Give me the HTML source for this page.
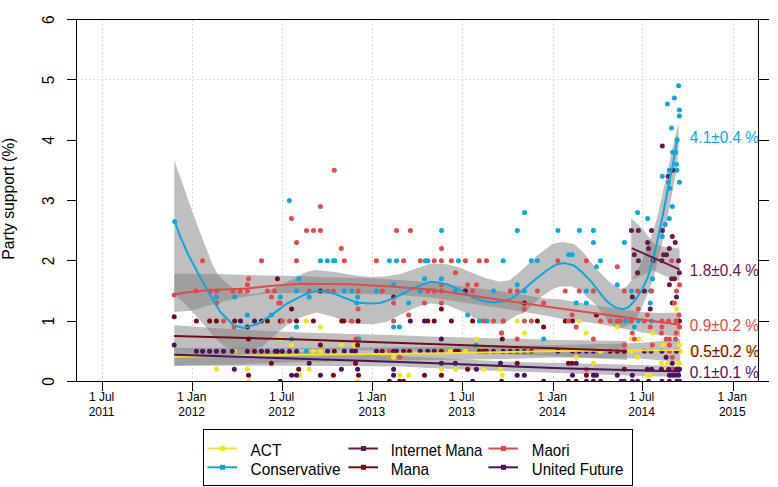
<!DOCTYPE html>
<html><head><meta charset="utf-8"><title>Party support</title>
<style>
html,body{margin:0;padding:0;background:#fff;}
body{width:778px;height:487px;overflow:hidden;font-family:"Liberation Sans",sans-serif;}
svg{display:block;font-family:"Liberation Sans",sans-serif;}
</style></head><body>
<svg width="778" height="487" viewBox="0 0 778 487">
<rect width="778" height="487" fill="#fff"/>
<defs><clipPath id="pc"><rect x="76.5" y="19.5" width="682" height="362"/></clipPath></defs>

<g stroke="#dbdbdb" stroke-width="1" stroke-dasharray="2 2" fill="none" shape-rendering="crispEdges">
<line x1="102.5" y1="20" x2="102.5" y2="381"/>
<line x1="192.5" y1="20" x2="192.5" y2="381"/>
<line x1="282.5" y1="20" x2="282.5" y2="381"/>
<line x1="372.5" y1="20" x2="372.5" y2="381"/>
<line x1="462.5" y1="20" x2="462.5" y2="381"/>
<line x1="553.5" y1="20" x2="553.5" y2="381"/>
<line x1="642.5" y1="20" x2="642.5" y2="381"/>
<line x1="733.5" y1="20" x2="733.5" y2="381"/>
<line x1="77" y1="79.5" x2="758" y2="79.5"/>
</g>
<g clip-path="url(#pc)">
<g fill="#fff" stroke="none">
<polygon points="174.3,348.0 250.0,348.0 300.0,348.0 430.0,347.0 560.0,345.0 640.0,343.0 680.3,339.0 680.3,362.0 640.0,358.5 560.0,357.5 503.0,359.0 430.0,360.0 300.0,362.0 250.0,364.0 174.3,365.7"/>
<polygon points="174.3,160.6 182.0,182.0 190.0,205.0 198.0,227.0 205.0,245.0 212.7,265.0 217.5,273.7 224.0,281.0 231.7,287.3 239.0,291.6 248.0,294.0 258.0,293.5 270.0,290.0 285.0,283.0 300.0,275.0 308.0,271.5 316.0,270.0 335.0,272.0 355.0,275.5 370.0,277.0 385.0,276.5 400.0,274.0 415.0,269.0 430.0,263.8 445.0,264.0 458.0,267.0 470.0,272.0 485.0,278.0 500.0,281.7 510.0,280.0 520.0,271.8 538.0,254.7 552.4,243.9 562.3,242.1 574.0,243.9 583.0,252.0 595.6,268.2 610.0,282.6 620.8,288.9 626.0,287.0 631.0,281.0 636.0,273.0 641.0,263.0 646.0,251.0 650.5,239.0 654.0,228.0 657.8,215.0 661.8,197.0 665.5,180.0 669.0,165.0 672.0,150.0 675.5,135.0 678.6,123.5 678.6,148.0 676.2,172.0 671.5,197.0 668.0,215.0 663.5,237.0 659.0,257.0 654.0,276.0 648.5,292.0 643.0,305.0 638.0,316.0 632.0,324.0 622.0,328.0 613.0,325.5 607.0,320.0 603.0,314.0 596.0,305.0 587.7,297.8 580.8,290.8 572.0,286.5 559.8,286.5 552.8,289.1 542.4,296.1 533.0,304.0 523.6,313.4 517.0,315.0 503.5,323.7 485.0,323.4 473.4,317.5 463.4,311.7 446.7,305.0 430.0,303.5 417.0,306.7 400.0,315.0 387.0,321.7 373.5,324.2 350.0,323.4 333.4,316.7 316.7,312.5 300.0,317.5 287.0,325.0 275.0,335.0 262.0,347.0 250.0,349.0 235.0,349.0 225.0,347.0 215.0,338.0 205.0,326.0 191.6,310.8 183.0,302.0 174.3,294.0"/>
<polygon points="631.2,218.4 642.6,228.4 653.5,243.5 665.0,247.0 679.5,248.5 679.5,281.0 665.0,276.0 653.0,270.5 645.0,274.0 631.2,280.0"/>
<polygon points="174.3,325.2 230.0,329.0 300.0,332.5 400.0,335.3 430.0,336.5 560.0,340.0 627.0,341.0 627.0,360.0 560.0,356.5 430.0,351.5 300.0,349.0 230.0,348.5 174.3,348.5"/>
<polygon points="174.3,273.7 217.5,274.0 266.0,275.5 300.0,276.0 330.0,277.5 365.0,278.0 400.0,280.0 430.0,282.5 470.0,287.5 500.0,291.0 545.0,298.5 560.0,299.3 600.0,306.0 640.0,312.0 660.0,313.0 680.0,312.5 680.0,336.5 660.0,335.0 640.0,332.0 600.0,324.0 560.0,318.5 545.0,315.5 500.0,308.0 470.0,303.5 430.0,297.5 400.0,295.0 365.0,294.0 330.0,293.5 300.0,293.0 266.0,293.5 239.0,297.8 212.0,304.6 191.6,310.8 174.3,312.0"/>
<polygon points="174.3,348.0 250.0,348.5 300.0,352.0 430.0,357.5 503.0,361.5 560.0,363.0 640.0,365.0 680.3,366.0 680.3,377.0 640.0,376.0 560.0,373.0 503.0,371.0 430.0,368.0 400.0,366.4 300.0,365.7 250.0,365.7 174.3,365.7"/>
</g>
<g fill="#808080" fill-opacity="0.5" stroke="none">
<polygon points="174.3,348.0 250.0,348.0 300.0,348.0 430.0,347.0 560.0,345.0 640.0,343.0 680.3,339.0 680.3,362.0 640.0,358.5 560.0,357.5 503.0,359.0 430.0,360.0 300.0,362.0 250.0,364.0 174.3,365.7"/>
<polygon points="174.3,160.6 182.0,182.0 190.0,205.0 198.0,227.0 205.0,245.0 212.7,265.0 217.5,273.7 224.0,281.0 231.7,287.3 239.0,291.6 248.0,294.0 258.0,293.5 270.0,290.0 285.0,283.0 300.0,275.0 308.0,271.5 316.0,270.0 335.0,272.0 355.0,275.5 370.0,277.0 385.0,276.5 400.0,274.0 415.0,269.0 430.0,263.8 445.0,264.0 458.0,267.0 470.0,272.0 485.0,278.0 500.0,281.7 510.0,280.0 520.0,271.8 538.0,254.7 552.4,243.9 562.3,242.1 574.0,243.9 583.0,252.0 595.6,268.2 610.0,282.6 620.8,288.9 626.0,287.0 631.0,281.0 636.0,273.0 641.0,263.0 646.0,251.0 650.5,239.0 654.0,228.0 657.8,215.0 661.8,197.0 665.5,180.0 669.0,165.0 672.0,150.0 675.5,135.0 678.6,123.5 678.6,148.0 676.2,172.0 671.5,197.0 668.0,215.0 663.5,237.0 659.0,257.0 654.0,276.0 648.5,292.0 643.0,305.0 638.0,316.0 632.0,324.0 622.0,328.0 613.0,325.5 607.0,320.0 603.0,314.0 596.0,305.0 587.7,297.8 580.8,290.8 572.0,286.5 559.8,286.5 552.8,289.1 542.4,296.1 533.0,304.0 523.6,313.4 517.0,315.0 503.5,323.7 485.0,323.4 473.4,317.5 463.4,311.7 446.7,305.0 430.0,303.5 417.0,306.7 400.0,315.0 387.0,321.7 373.5,324.2 350.0,323.4 333.4,316.7 316.7,312.5 300.0,317.5 287.0,325.0 275.0,335.0 262.0,347.0 250.0,349.0 235.0,349.0 225.0,347.0 215.0,338.0 205.0,326.0 191.6,310.8 183.0,302.0 174.3,294.0"/>
<polygon points="631.2,218.4 642.6,228.4 653.5,243.5 665.0,247.0 679.5,248.5 679.5,281.0 665.0,276.0 653.0,270.5 645.0,274.0 631.2,280.0"/>
<polygon points="174.3,325.2 230.0,329.0 300.0,332.5 400.0,335.3 430.0,336.5 560.0,340.0 627.0,341.0 627.0,360.0 560.0,356.5 430.0,351.5 300.0,349.0 230.0,348.5 174.3,348.5"/>
<polygon points="174.3,273.7 217.5,274.0 266.0,275.5 300.0,276.0 330.0,277.5 365.0,278.0 400.0,280.0 430.0,282.5 470.0,287.5 500.0,291.0 545.0,298.5 560.0,299.3 600.0,306.0 640.0,312.0 660.0,313.0 680.0,312.5 680.0,336.5 660.0,335.0 640.0,332.0 600.0,324.0 560.0,318.5 545.0,315.5 500.0,308.0 470.0,303.5 430.0,297.5 400.0,295.0 365.0,294.0 330.0,293.5 300.0,293.0 266.0,293.5 239.0,297.8 212.0,304.6 191.6,310.8 174.3,312.0"/>
<polygon points="174.3,348.0 250.0,348.5 300.0,352.0 430.0,357.5 503.0,361.5 560.0,363.0 640.0,365.0 680.3,366.0 680.3,377.0 640.0,376.0 560.0,373.0 503.0,371.0 430.0,368.0 400.0,366.4 300.0,365.7 250.0,365.7 174.3,365.7"/>
</g>
<g fill="#F2E41A">
<circle cx="216.4" cy="369.2" r="2.5"/>
<circle cx="247.4" cy="369.2" r="2.5"/>
<circle cx="248.5" cy="381.3" r="2.5"/>
<circle cx="234.3" cy="351.2" r="2.5"/>
<circle cx="280.3" cy="339.1" r="2.5"/>
<circle cx="291.6" cy="345.1" r="2.5"/>
<circle cx="299.5" cy="375.3" r="2.5"/>
<circle cx="306.3" cy="321.0" r="2.5"/>
<circle cx="320.4" cy="327.0" r="2.5"/>
<circle cx="313.4" cy="351.2" r="2.5"/>
<circle cx="320.4" cy="351.2" r="2.5"/>
<circle cx="341.4" cy="345.1" r="2.5"/>
<circle cx="354.3" cy="345.1" r="2.5"/>
<circle cx="393.6" cy="357.2" r="2.5"/>
<circle cx="309.2" cy="369.2" r="2.5"/>
<circle cx="399.7" cy="375.3" r="2.5"/>
<circle cx="408.6" cy="375.3" r="2.5"/>
<circle cx="357.6" cy="381.3" r="2.5"/>
<circle cx="517.2" cy="321.0" r="2.5"/>
<circle cx="524.4" cy="333.1" r="2.5"/>
<circle cx="476.4" cy="339.1" r="2.5"/>
<circle cx="450.4" cy="351.2" r="2.5"/>
<circle cx="465.4" cy="351.2" r="2.5"/>
<circle cx="441.4" cy="369.2" r="2.5"/>
<circle cx="455.4" cy="369.2" r="2.5"/>
<circle cx="483.5" cy="369.2" r="2.5"/>
<circle cx="500.5" cy="369.2" r="2.5"/>
<circle cx="502.3" cy="375.3" r="2.5"/>
<circle cx="579.2" cy="321.0" r="2.5"/>
<circle cx="617.3" cy="327.0" r="2.5"/>
<circle cx="586.4" cy="333.1" r="2.5"/>
<circle cx="652.4" cy="333.1" r="2.5"/>
<circle cx="631.5" cy="339.1" r="2.5"/>
<circle cx="638.5" cy="339.1" r="2.5"/>
<circle cx="662.8" cy="345.1" r="2.5"/>
<circle cx="679.5" cy="345.1" r="2.5"/>
<circle cx="600.6" cy="351.2" r="2.5"/>
<circle cx="631.5" cy="351.2" r="2.5"/>
<circle cx="680.3" cy="351.2" r="2.5"/>
<circle cx="576.2" cy="357.2" r="2.5"/>
<circle cx="637.7" cy="357.2" r="2.5"/>
<circle cx="593.4" cy="363.2" r="2.5"/>
<circle cx="661.4" cy="363.2" r="2.5"/>
<circle cx="667.8" cy="363.2" r="2.5"/>
<circle cx="677.8" cy="363.2" r="2.5"/>
<circle cx="679.5" cy="363.2" r="2.5"/>
<circle cx="665.3" cy="369.2" r="2.5"/>
<circle cx="647.4" cy="375.3" r="2.5"/>
<circle cx="650.2" cy="375.3" r="2.5"/>
<circle cx="676.5" cy="308.9" r="2.5"/>
</g>
<g fill="#0BA8E0">
<circle cx="174.7" cy="221.5" r="2.5"/>
<circle cx="289.3" cy="200.4" r="2.5"/>
<circle cx="320.4" cy="260.7" r="2.5"/>
<circle cx="327.4" cy="260.7" r="2.5"/>
<circle cx="333.4" cy="260.7" r="2.5"/>
<circle cx="334.8" cy="260.7" r="2.5"/>
<circle cx="216.4" cy="296.9" r="2.5"/>
<circle cx="234.7" cy="296.9" r="2.5"/>
<circle cx="280.3" cy="296.9" r="2.5"/>
<circle cx="296.5" cy="290.9" r="2.5"/>
<circle cx="298.7" cy="278.8" r="2.5"/>
<circle cx="247.4" cy="315.0" r="2.5"/>
<circle cx="271.4" cy="315.0" r="2.5"/>
<circle cx="296.5" cy="327.0" r="2.5"/>
<circle cx="291.6" cy="339.1" r="2.5"/>
<circle cx="309.2" cy="296.9" r="2.5"/>
<circle cx="344.3" cy="290.9" r="2.5"/>
<circle cx="351.8" cy="290.9" r="2.5"/>
<circle cx="357.6" cy="296.9" r="2.5"/>
<circle cx="356.8" cy="302.9" r="2.5"/>
<circle cx="358.8" cy="339.1" r="2.5"/>
<circle cx="376.4" cy="290.9" r="2.5"/>
<circle cx="389.4" cy="260.7" r="2.5"/>
<circle cx="396.4" cy="260.7" r="2.5"/>
<circle cx="393.6" cy="284.8" r="2.5"/>
<circle cx="408.6" cy="302.9" r="2.5"/>
<circle cx="420.3" cy="290.9" r="2.5"/>
<circle cx="424.5" cy="278.8" r="2.5"/>
<circle cx="425.3" cy="260.7" r="2.5"/>
<circle cx="427.8" cy="260.7" r="2.5"/>
<circle cx="393.6" cy="327.0" r="2.5"/>
<circle cx="399.4" cy="327.0" r="2.5"/>
<circle cx="306.3" cy="351.2" r="2.5"/>
<circle cx="441.5" cy="230.6" r="2.5"/>
<circle cx="441.4" cy="278.8" r="2.5"/>
<circle cx="455.4" cy="290.9" r="2.5"/>
<circle cx="458.4" cy="260.7" r="2.5"/>
<circle cx="467.6" cy="315.0" r="2.5"/>
<circle cx="479.3" cy="321.0" r="2.5"/>
<circle cx="486.8" cy="321.0" r="2.5"/>
<circle cx="493.5" cy="290.9" r="2.5"/>
<circle cx="503.2" cy="260.7" r="2.5"/>
<circle cx="503.2" cy="321.0" r="2.5"/>
<circle cx="501.5" cy="333.1" r="2.5"/>
<circle cx="517.3" cy="230.6" r="2.5"/>
<circle cx="517.2" cy="284.8" r="2.5"/>
<circle cx="524.5" cy="212.5" r="2.5"/>
<circle cx="524.4" cy="290.9" r="2.5"/>
<circle cx="531.3" cy="260.7" r="2.5"/>
<circle cx="537.4" cy="260.7" r="2.5"/>
<circle cx="543.6" cy="339.1" r="2.5"/>
<circle cx="476.0" cy="345.1" r="2.5"/>
<circle cx="557.9" cy="230.6" r="2.5"/>
<circle cx="568.6" cy="254.7" r="2.5"/>
<circle cx="572.2" cy="254.7" r="2.5"/>
<circle cx="579.4" cy="230.6" r="2.5"/>
<circle cx="593.4" cy="230.6" r="2.5"/>
<circle cx="593.4" cy="242.6" r="2.5"/>
<circle cx="586.4" cy="290.9" r="2.5"/>
<circle cx="576.2" cy="302.9" r="2.5"/>
<circle cx="586.4" cy="302.9" r="2.5"/>
<circle cx="596.4" cy="266.7" r="2.5"/>
<circle cx="600.5" cy="260.7" r="2.5"/>
<circle cx="617.3" cy="284.8" r="2.5"/>
<circle cx="624.4" cy="242.6" r="2.5"/>
<circle cx="631.5" cy="290.9" r="2.5"/>
<circle cx="634.4" cy="327.0" r="2.5"/>
<circle cx="625.7" cy="321.0" r="2.5"/>
<circle cx="638.2" cy="321.0" r="2.5"/>
<circle cx="651.6" cy="321.0" r="2.5"/>
<circle cx="650.5" cy="290.9" r="2.5"/>
<circle cx="650.3" cy="302.9" r="2.5"/>
<circle cx="652.4" cy="278.8" r="2.5"/>
<circle cx="637.6" cy="212.5" r="2.5"/>
<circle cx="647.6" cy="218.5" r="2.5"/>
<circle cx="669.3" cy="218.5" r="2.5"/>
<circle cx="665.2" cy="224.5" r="2.5"/>
<circle cx="662.3" cy="236.6" r="2.5"/>
<circle cx="672.3" cy="206.4" r="2.5"/>
<circle cx="669.8" cy="188.3" r="2.5"/>
<circle cx="668.5" cy="182.3" r="2.5"/>
<circle cx="679.4" cy="182.3" r="2.5"/>
<circle cx="662.3" cy="176.3" r="2.5"/>
<circle cx="669.3" cy="170.3" r="2.5"/>
<circle cx="676.9" cy="170.3" r="2.5"/>
<circle cx="676.5" cy="164.2" r="2.5"/>
<circle cx="672.7" cy="152.2" r="2.5"/>
<circle cx="675.5" cy="152.2" r="2.5"/>
<circle cx="677.2" cy="140.1" r="2.5"/>
<circle cx="671.5" cy="128.0" r="2.5"/>
<circle cx="679.4" cy="116.0" r="2.5"/>
<circle cx="679.4" cy="110.0" r="2.5"/>
<circle cx="667.4" cy="103.9" r="2.5"/>
<circle cx="674.4" cy="97.9" r="2.5"/>
<circle cx="678.6" cy="85.8" r="2.5"/>
</g>
<g fill="#66194A">
<circle cx="631.4" cy="230.6" r="2.5"/>
<circle cx="638.4" cy="230.6" r="2.5"/>
<circle cx="651.5" cy="230.6" r="2.5"/>
<circle cx="662.3" cy="230.6" r="2.5"/>
<circle cx="672.3" cy="236.6" r="2.5"/>
<circle cx="647.6" cy="242.6" r="2.5"/>
<circle cx="675.2" cy="242.6" r="2.5"/>
<circle cx="648.5" cy="248.6" r="2.5"/>
<circle cx="669.3" cy="248.6" r="2.5"/>
<circle cx="634.3" cy="254.7" r="2.5"/>
<circle cx="663.5" cy="254.7" r="2.5"/>
<circle cx="666.5" cy="254.7" r="2.5"/>
<circle cx="638.4" cy="260.7" r="2.5"/>
<circle cx="653.1" cy="260.7" r="2.5"/>
<circle cx="661.8" cy="260.7" r="2.5"/>
<circle cx="678.5" cy="260.7" r="2.5"/>
<circle cx="637.6" cy="272.8" r="2.5"/>
<circle cx="679.4" cy="272.8" r="2.5"/>
<circle cx="671.6" cy="278.8" r="2.5"/>
<circle cx="674.4" cy="278.8" r="2.5"/>
<circle cx="669.4" cy="284.8" r="2.5"/>
<circle cx="644.4" cy="290.9" r="2.5"/>
<circle cx="632.3" cy="296.9" r="2.5"/>
<circle cx="676.5" cy="296.9" r="2.5"/>
<circle cx="672.3" cy="302.9" r="2.5"/>
<circle cx="650.2" cy="308.9" r="2.5"/>
<circle cx="679.5" cy="321.0" r="2.5"/>
<circle cx="662.3" cy="146.1" r="2.5"/>
<circle cx="668.2" cy="176.3" r="2.5"/>
<circle cx="672.7" cy="170.3" r="2.5"/>
</g>
<g fill="#770A17">
<circle cx="174.2" cy="316.8" r="2.5"/>
<circle cx="196.4" cy="321.0" r="2.5"/>
<circle cx="209.6" cy="321.0" r="2.5"/>
<circle cx="216.4" cy="321.0" r="2.5"/>
<circle cx="234.7" cy="321.0" r="2.5"/>
<circle cx="261.4" cy="321.0" r="2.5"/>
<circle cx="267.4" cy="321.0" r="2.5"/>
<circle cx="280.3" cy="321.0" r="2.5"/>
<circle cx="296.5" cy="321.0" r="2.5"/>
<circle cx="277.4" cy="278.8" r="2.5"/>
<circle cx="291.6" cy="308.9" r="2.5"/>
<circle cx="247.4" cy="327.0" r="2.5"/>
<circle cx="248.5" cy="339.1" r="2.5"/>
<circle cx="254.5" cy="351.2" r="2.5"/>
<circle cx="271.4" cy="363.2" r="2.5"/>
<circle cx="248.5" cy="375.3" r="2.5"/>
<circle cx="298.7" cy="369.2" r="2.5"/>
<circle cx="320.4" cy="290.9" r="2.5"/>
<circle cx="313.4" cy="321.0" r="2.5"/>
<circle cx="341.8" cy="321.0" r="2.5"/>
<circle cx="343.8" cy="321.0" r="2.5"/>
<circle cx="358.1" cy="321.0" r="2.5"/>
<circle cx="393.6" cy="296.9" r="2.5"/>
<circle cx="320.4" cy="345.1" r="2.5"/>
<circle cx="357.6" cy="345.1" r="2.5"/>
<circle cx="334.3" cy="351.2" r="2.5"/>
<circle cx="382.2" cy="351.2" r="2.5"/>
<circle cx="409.4" cy="351.2" r="2.5"/>
<circle cx="355.5" cy="363.2" r="2.5"/>
<circle cx="333.4" cy="375.3" r="2.5"/>
<circle cx="358.5" cy="375.3" r="2.5"/>
<circle cx="424.5" cy="375.3" r="2.5"/>
<circle cx="399.7" cy="381.3" r="2.5"/>
<circle cx="403.6" cy="381.3" r="2.5"/>
<circle cx="427.8" cy="321.0" r="2.5"/>
<circle cx="465.4" cy="290.9" r="2.5"/>
<circle cx="441.4" cy="308.9" r="2.5"/>
<circle cx="524.4" cy="302.9" r="2.5"/>
<circle cx="434.2" cy="321.0" r="2.5"/>
<circle cx="451.4" cy="321.0" r="2.5"/>
<circle cx="472.6" cy="321.0" r="2.5"/>
<circle cx="537.4" cy="321.0" r="2.5"/>
<circle cx="543.6" cy="327.0" r="2.5"/>
<circle cx="502.3" cy="339.1" r="2.5"/>
<circle cx="441.4" cy="351.2" r="2.5"/>
<circle cx="455.4" cy="351.2" r="2.5"/>
<circle cx="458.4" cy="351.2" r="2.5"/>
<circle cx="479.3" cy="351.2" r="2.5"/>
<circle cx="483.5" cy="351.2" r="2.5"/>
<circle cx="486.5" cy="351.2" r="2.5"/>
<circle cx="510.2" cy="351.2" r="2.5"/>
<circle cx="531.4" cy="351.2" r="2.5"/>
<circle cx="517.2" cy="363.2" r="2.5"/>
<circle cx="467.6" cy="369.2" r="2.5"/>
<circle cx="441.4" cy="375.3" r="2.5"/>
<circle cx="565.3" cy="321.0" r="2.5"/>
<circle cx="572.5" cy="321.0" r="2.5"/>
<circle cx="596.4" cy="315.0" r="2.5"/>
<circle cx="610.1" cy="351.2" r="2.5"/>
<circle cx="617.3" cy="351.2" r="2.5"/>
<circle cx="624.3" cy="351.2" r="2.5"/>
<circle cx="651.1" cy="351.2" r="2.5"/>
<circle cx="568.4" cy="363.2" r="2.5"/>
<circle cx="572.0" cy="363.2" r="2.5"/>
<circle cx="624.3" cy="369.2" r="2.5"/>
<circle cx="586.4" cy="375.3" r="2.5"/>
<circle cx="576.2" cy="381.3" r="2.5"/>
<circle cx="593.4" cy="381.3" r="2.5"/>
</g>
<g fill="#E04A48">
<circle cx="174.2" cy="295.1" r="2.5"/>
<circle cx="202.5" cy="260.7" r="2.5"/>
<circle cx="261.5" cy="260.7" r="2.5"/>
<circle cx="296.5" cy="260.7" r="2.5"/>
<circle cx="291.4" cy="218.5" r="2.5"/>
<circle cx="296.5" cy="242.6" r="2.5"/>
<circle cx="306.5" cy="230.6" r="2.5"/>
<circle cx="313.5" cy="230.6" r="2.5"/>
<circle cx="320.4" cy="230.6" r="2.5"/>
<circle cx="320.4" cy="206.4" r="2.5"/>
<circle cx="334.3" cy="170.3" r="2.5"/>
<circle cx="341.2" cy="248.6" r="2.5"/>
<circle cx="344.3" cy="260.7" r="2.5"/>
<circle cx="195.9" cy="290.9" r="2.5"/>
<circle cx="210.1" cy="290.9" r="2.5"/>
<circle cx="216.4" cy="290.9" r="2.5"/>
<circle cx="232.7" cy="290.9" r="2.5"/>
<circle cx="240.2" cy="290.9" r="2.5"/>
<circle cx="247.4" cy="290.9" r="2.5"/>
<circle cx="247.4" cy="284.8" r="2.5"/>
<circle cx="248.5" cy="278.8" r="2.5"/>
<circle cx="267.4" cy="290.9" r="2.5"/>
<circle cx="274.4" cy="290.9" r="2.5"/>
<circle cx="271.4" cy="296.9" r="2.5"/>
<circle cx="278.6" cy="302.9" r="2.5"/>
<circle cx="280.3" cy="302.9" r="2.5"/>
<circle cx="216.8" cy="302.9" r="2.5"/>
<circle cx="223.5" cy="321.0" r="2.5"/>
<circle cx="282.3" cy="321.0" r="2.5"/>
<circle cx="289.5" cy="321.0" r="2.5"/>
<circle cx="234.0" cy="327.0" r="2.5"/>
<circle cx="309.2" cy="290.9" r="2.5"/>
<circle cx="327.6" cy="290.9" r="2.5"/>
<circle cx="333.4" cy="290.9" r="2.5"/>
<circle cx="358.1" cy="290.9" r="2.5"/>
<circle cx="358.1" cy="308.9" r="2.5"/>
<circle cx="382.2" cy="290.9" r="2.5"/>
<circle cx="427.8" cy="290.9" r="2.5"/>
<circle cx="393.6" cy="302.9" r="2.5"/>
<circle cx="424.5" cy="302.9" r="2.5"/>
<circle cx="408.6" cy="315.0" r="2.5"/>
<circle cx="351.5" cy="321.0" r="2.5"/>
<circle cx="393.6" cy="321.0" r="2.5"/>
<circle cx="376.4" cy="260.7" r="2.5"/>
<circle cx="403.6" cy="260.7" r="2.5"/>
<circle cx="420.3" cy="260.7" r="2.5"/>
<circle cx="356.0" cy="339.1" r="2.5"/>
<circle cx="389.4" cy="351.2" r="2.5"/>
<circle cx="399.7" cy="357.2" r="2.5"/>
<circle cx="396.5" cy="230.6" r="2.5"/>
<circle cx="410.4" cy="230.6" r="2.5"/>
<circle cx="441.5" cy="248.6" r="2.5"/>
<circle cx="434.2" cy="260.7" r="2.5"/>
<circle cx="441.4" cy="260.7" r="2.5"/>
<circle cx="451.4" cy="260.7" r="2.5"/>
<circle cx="465.4" cy="260.7" r="2.5"/>
<circle cx="479.3" cy="260.7" r="2.5"/>
<circle cx="486.5" cy="260.7" r="2.5"/>
<circle cx="557.8" cy="260.7" r="2.5"/>
<circle cx="455.4" cy="272.8" r="2.5"/>
<circle cx="441.4" cy="284.8" r="2.5"/>
<circle cx="467.6" cy="284.8" r="2.5"/>
<circle cx="476.4" cy="284.8" r="2.5"/>
<circle cx="434.2" cy="290.9" r="2.5"/>
<circle cx="441.4" cy="290.9" r="2.5"/>
<circle cx="472.6" cy="290.9" r="2.5"/>
<circle cx="510.2" cy="290.9" r="2.5"/>
<circle cx="517.2" cy="290.9" r="2.5"/>
<circle cx="537.4" cy="290.9" r="2.5"/>
<circle cx="441.4" cy="302.9" r="2.5"/>
<circle cx="524.4" cy="308.9" r="2.5"/>
<circle cx="543.6" cy="302.9" r="2.5"/>
<circle cx="483.5" cy="321.0" r="2.5"/>
<circle cx="493.5" cy="321.0" r="2.5"/>
<circle cx="503.2" cy="321.0" r="2.5"/>
<circle cx="524.4" cy="321.0" r="2.5"/>
<circle cx="531.4" cy="321.0" r="2.5"/>
<circle cx="501.5" cy="333.1" r="2.5"/>
<circle cx="517.2" cy="339.1" r="2.5"/>
<circle cx="586.4" cy="260.7" r="2.5"/>
<circle cx="617.3" cy="266.7" r="2.5"/>
<circle cx="565.3" cy="290.9" r="2.5"/>
<circle cx="579.2" cy="290.9" r="2.5"/>
<circle cx="593.4" cy="290.9" r="2.5"/>
<circle cx="624.3" cy="290.9" r="2.5"/>
<circle cx="637.7" cy="290.9" r="2.5"/>
<circle cx="651.6" cy="290.9" r="2.5"/>
<circle cx="638.2" cy="308.9" r="2.5"/>
<circle cx="572.0" cy="315.0" r="2.5"/>
<circle cx="647.4" cy="315.0" r="2.5"/>
<circle cx="568.4" cy="321.0" r="2.5"/>
<circle cx="600.6" cy="321.0" r="2.5"/>
<circle cx="610.1" cy="321.0" r="2.5"/>
<circle cx="617.3" cy="321.0" r="2.5"/>
<circle cx="620.2" cy="321.0" r="2.5"/>
<circle cx="631.5" cy="321.0" r="2.5"/>
<circle cx="644.4" cy="321.0" r="2.5"/>
<circle cx="661.9" cy="321.0" r="2.5"/>
<circle cx="668.6" cy="321.0" r="2.5"/>
<circle cx="676.1" cy="321.0" r="2.5"/>
<circle cx="576.2" cy="327.0" r="2.5"/>
<circle cx="650.2" cy="327.0" r="2.5"/>
<circle cx="661.9" cy="327.0" r="2.5"/>
<circle cx="679.5" cy="327.0" r="2.5"/>
<circle cx="632.3" cy="333.1" r="2.5"/>
<circle cx="661.4" cy="333.1" r="2.5"/>
<circle cx="676.1" cy="333.1" r="2.5"/>
<circle cx="593.4" cy="339.1" r="2.5"/>
<circle cx="634.4" cy="339.1" r="2.5"/>
<circle cx="666.1" cy="339.1" r="2.5"/>
<circle cx="669.4" cy="339.1" r="2.5"/>
<circle cx="675.6" cy="339.1" r="2.5"/>
<circle cx="624.3" cy="345.1" r="2.5"/>
<circle cx="652.4" cy="345.1" r="2.5"/>
<circle cx="669.4" cy="345.1" r="2.5"/>
<circle cx="669.4" cy="351.2" r="2.5"/>
<circle cx="672.3" cy="357.2" r="2.5"/>
<circle cx="586.4" cy="369.2" r="2.5"/>
<circle cx="672.8" cy="369.2" r="2.5"/>
<circle cx="671.6" cy="260.7" r="2.5"/>
<circle cx="679.5" cy="284.8" r="2.5"/>
<circle cx="676.5" cy="290.9" r="2.5"/>
<circle cx="674.4" cy="302.9" r="2.5"/>
<circle cx="679.0" cy="315.0" r="2.5"/>
</g>
<g fill="#4B1260">
<circle cx="174.2" cy="345.1" r="2.5"/>
<circle cx="196.4" cy="351.2" r="2.5"/>
<circle cx="202.6" cy="351.2" r="2.5"/>
<circle cx="209.6" cy="351.2" r="2.5"/>
<circle cx="216.4" cy="351.2" r="2.5"/>
<circle cx="223.5" cy="351.2" r="2.5"/>
<circle cx="232.3" cy="351.2" r="2.5"/>
<circle cx="247.4" cy="351.2" r="2.5"/>
<circle cx="261.4" cy="351.2" r="2.5"/>
<circle cx="267.4" cy="351.2" r="2.5"/>
<circle cx="275.3" cy="351.2" r="2.5"/>
<circle cx="277.4" cy="351.2" r="2.5"/>
<circle cx="282.3" cy="351.2" r="2.5"/>
<circle cx="289.5" cy="351.2" r="2.5"/>
<circle cx="296.5" cy="351.2" r="2.5"/>
<circle cx="240.5" cy="321.0" r="2.5"/>
<circle cx="254.5" cy="321.0" r="2.5"/>
<circle cx="234.3" cy="369.2" r="2.5"/>
<circle cx="280.3" cy="381.3" r="2.5"/>
<circle cx="291.6" cy="375.3" r="2.5"/>
<circle cx="296.5" cy="375.3" r="2.5"/>
<circle cx="327.6" cy="351.2" r="2.5"/>
<circle cx="344.3" cy="351.2" r="2.5"/>
<circle cx="351.8" cy="351.2" r="2.5"/>
<circle cx="355.5" cy="351.2" r="2.5"/>
<circle cx="376.4" cy="351.2" r="2.5"/>
<circle cx="393.6" cy="351.2" r="2.5"/>
<circle cx="396.4" cy="351.2" r="2.5"/>
<circle cx="403.6" cy="351.2" r="2.5"/>
<circle cx="420.3" cy="351.2" r="2.5"/>
<circle cx="427.8" cy="351.2" r="2.5"/>
<circle cx="410.3" cy="321.0" r="2.5"/>
<circle cx="424.5" cy="321.0" r="2.5"/>
<circle cx="309.2" cy="363.2" r="2.5"/>
<circle cx="341.4" cy="369.2" r="2.5"/>
<circle cx="357.6" cy="369.2" r="2.5"/>
<circle cx="393.6" cy="369.2" r="2.5"/>
<circle cx="320.4" cy="375.3" r="2.5"/>
<circle cx="393.6" cy="375.3" r="2.5"/>
<circle cx="389.4" cy="381.3" r="2.5"/>
<circle cx="441.4" cy="339.1" r="2.5"/>
<circle cx="434.2" cy="351.2" r="2.5"/>
<circle cx="493.5" cy="351.2" r="2.5"/>
<circle cx="503.2" cy="351.2" r="2.5"/>
<circle cx="517.2" cy="351.2" r="2.5"/>
<circle cx="524.4" cy="351.2" r="2.5"/>
<circle cx="557.8" cy="351.2" r="2.5"/>
<circle cx="441.4" cy="363.2" r="2.5"/>
<circle cx="455.4" cy="363.2" r="2.5"/>
<circle cx="500.5" cy="363.2" r="2.5"/>
<circle cx="476.4" cy="369.2" r="2.5"/>
<circle cx="517.2" cy="375.3" r="2.5"/>
<circle cx="524.4" cy="375.3" r="2.5"/>
<circle cx="451.4" cy="381.3" r="2.5"/>
<circle cx="472.6" cy="381.3" r="2.5"/>
<circle cx="501.5" cy="381.3" r="2.5"/>
<circle cx="543.6" cy="381.3" r="2.5"/>
<circle cx="572.5" cy="351.2" r="2.5"/>
<circle cx="579.2" cy="351.2" r="2.5"/>
<circle cx="586.4" cy="351.2" r="2.5"/>
<circle cx="593.4" cy="351.2" r="2.5"/>
<circle cx="644.4" cy="351.2" r="2.5"/>
<circle cx="661.9" cy="351.2" r="2.5"/>
<circle cx="676.5" cy="351.2" r="2.5"/>
<circle cx="666.1" cy="357.2" r="2.5"/>
<circle cx="576.2" cy="363.2" r="2.5"/>
<circle cx="672.3" cy="363.2" r="2.5"/>
<circle cx="647.4" cy="369.2" r="2.5"/>
<circle cx="651.6" cy="369.2" r="2.5"/>
<circle cx="661.4" cy="369.2" r="2.5"/>
<circle cx="668.6" cy="369.2" r="2.5"/>
<circle cx="676.5" cy="369.2" r="2.5"/>
<circle cx="679.5" cy="369.2" r="2.5"/>
<circle cx="572.5" cy="375.3" r="2.5"/>
<circle cx="593.4" cy="375.3" r="2.5"/>
<circle cx="596.4" cy="375.3" r="2.5"/>
<circle cx="617.3" cy="375.3" r="2.5"/>
<circle cx="632.3" cy="375.3" r="2.5"/>
<circle cx="669.4" cy="375.3" r="2.5"/>
<circle cx="672.3" cy="375.3" r="2.5"/>
<circle cx="675.3" cy="375.3" r="2.5"/>
<circle cx="678.6" cy="375.3" r="2.5"/>
<circle cx="568.4" cy="381.3" r="2.5"/>
<circle cx="586.4" cy="381.3" r="2.5"/>
<circle cx="600.6" cy="381.3" r="2.5"/>
<circle cx="621.0" cy="381.3" r="2.5"/>
<circle cx="624.3" cy="381.3" r="2.5"/>
<circle cx="632.3" cy="381.3" r="2.5"/>
<circle cx="637.7" cy="381.3" r="2.5"/>
<circle cx="648.6" cy="381.3" r="2.5"/>
<circle cx="661.9" cy="381.3" r="2.5"/>
<circle cx="669.4" cy="381.3" r="2.5"/>
<circle cx="677.0" cy="381.3" r="2.5"/>
<circle cx="679.5" cy="381.3" r="2.5"/>
</g>
<polyline points="174.2,356.8 300.0,354.8 430.0,353.5 560.0,351.0 680.3,350.1" fill="none" stroke="#F2E41A" stroke-width="2" stroke-linejoin="round"/>
<polyline points="174.7,221.5 180.0,236.0 188.4,255.0 200.0,277.0 210.1,295.1 220.1,311.8 233.5,325.2 243.5,328.0 256.9,324.3 271.4,315.1 287.0,303.5 300.0,296.8 308.0,293.0 316.7,290.9 325.0,291.5 333.4,293.4 345.0,298.0 356.8,302.6 368.0,303.5 380.2,303.0 393.6,298.4 405.0,292.5 417.0,286.7 430.0,281.7 438.0,282.5 446.7,284.2 456.7,288.4 473.4,297.6 483.0,301.0 493.5,302.6 503.0,301.5 510.2,299.3 520.0,292.5 538.0,277.2 548.0,269.5 556.0,264.6 565.0,263.1 574.0,265.5 583.0,273.0 592.0,282.6 604.6,298.8 610.0,304.0 615.4,307.4 622.6,309.2 628.0,307.5 631.6,304.2 636.0,299.0 641.5,290.5 647.5,278.0 653.0,260.0 657.5,240.0 661.8,220.0 665.8,200.0 669.5,180.0 672.8,165.0 675.0,152.0 677.7,137.0" fill="none" stroke="#0BA8E0" stroke-width="2" stroke-linejoin="round"/>
<polyline points="631.7,248.1 679.4,269.4" fill="none" stroke="#66194A" stroke-width="2" stroke-linejoin="round"/>
<polyline points="174.2,335.9 300.0,339.5 430.0,344.0 560.0,348.6 627.0,351.0" fill="none" stroke="#770A17" stroke-width="2" stroke-linejoin="round"/>
<polyline points="174.2,294.3 190.0,292.0 210.0,290.1 247.4,288.4 270.0,286.0 300.0,283.7 350.0,284.2 393.6,286.7 430.0,289.6 560.0,308.5 680.0,324.7" fill="none" stroke="#E04A48" stroke-width="2" stroke-linejoin="round"/>
<polyline points="174.2,354.8 300.0,358.7 430.0,363.1 560.0,368.2 680.3,371.5" fill="none" stroke="#4B1260" stroke-width="2" stroke-linejoin="round"/>
</g>
<g clip-path="url(#pc)" font-size="16.2">
<text transform="translate(689.8,356.6) scale(0.950,1)" fill="#F2E41A">0.5±0.2 %</text>
<text transform="translate(689.8,142.5) scale(0.950,1)" fill="#0BA8E0">4.1±0.4 %</text>
<text transform="translate(689.8,275.5) scale(0.950,1)" fill="#66194A">1.8±0.4 %</text>
<text transform="translate(690.4,356.6) scale(0.950,1)" fill="#770A17">0.5±0.2 %</text>
<text transform="translate(689.8,331.4) scale(0.950,1)" fill="#E04A48">0.9±0.2 %</text>
<text transform="translate(689.8,377.6) scale(0.950,1)" fill="#4B1260">0.1±0.1 %</text>
</g>
<g stroke="#000" stroke-width="1" fill="none" shape-rendering="crispEdges">
<rect x="76.5" y="19.5" width="682" height="362"/>
<line x1="67" y1="381.5" x2="76.5" y2="381.5"/>
<line x1="758.5" y1="381.5" x2="769" y2="381.5"/>
<line x1="67" y1="321.5" x2="76.5" y2="321.5"/>
<line x1="758.5" y1="321.5" x2="769" y2="321.5"/>
<line x1="67" y1="260.5" x2="76.5" y2="260.5"/>
<line x1="758.5" y1="260.5" x2="769" y2="260.5"/>
<line x1="67" y1="200.5" x2="76.5" y2="200.5"/>
<line x1="758.5" y1="200.5" x2="769" y2="200.5"/>
<line x1="67" y1="140.5" x2="76.5" y2="140.5"/>
<line x1="758.5" y1="140.5" x2="769" y2="140.5"/>
<line x1="67" y1="79.5" x2="76.5" y2="79.5"/>
<line x1="758.5" y1="79.5" x2="769" y2="79.5"/>
<line x1="67" y1="19.5" x2="76.5" y2="19.5"/>
<line x1="758.5" y1="19.5" x2="769" y2="19.5"/>
<line x1="102.5" y1="381.5" x2="102.5" y2="391"/>
<line x1="192.5" y1="381.5" x2="192.5" y2="391"/>
<line x1="282.5" y1="381.5" x2="282.5" y2="391"/>
<line x1="372.5" y1="381.5" x2="372.5" y2="391"/>
<line x1="462.5" y1="381.5" x2="462.5" y2="391"/>
<line x1="553.5" y1="381.5" x2="553.5" y2="391"/>
<line x1="642.5" y1="381.5" x2="642.5" y2="391"/>
<line x1="733.5" y1="381.5" x2="733.5" y2="391"/>
</g>
<g font-size="12" fill="#000" text-anchor="middle">
<text x="101.6" y="400.7">1 Jul</text>
<text x="101.6" y="415.8">2011</text>
<text x="191.7" y="400.7">1 Jan</text>
<text x="191.7" y="415.8">2012</text>
<text x="281.6" y="400.7">1 Jul</text>
<text x="281.6" y="415.8">2012</text>
<text x="371.8" y="400.7">1 Jan</text>
<text x="371.8" y="415.8">2013</text>
<text x="461.7" y="400.7">1 Jul</text>
<text x="461.7" y="415.8">2013</text>
<text x="552.3" y="400.7">1 Jan</text>
<text x="552.3" y="415.8">2014</text>
<text x="641.6" y="400.7">1 Jul</text>
<text x="641.6" y="415.8">2014</text>
<text x="732.3" y="400.7">1 Jan</text>
<text x="732.3" y="415.8">2015</text>
</g>
<g font-size="16.2" fill="#000" text-anchor="middle">
<text transform="translate(53.8,381.5) rotate(-90) scale(0.950,1)">0</text>
<text transform="translate(53.8,321.2) rotate(-90) scale(0.950,1)">1</text>
<text transform="translate(53.8,260.9) rotate(-90) scale(0.950,1)">2</text>
<text transform="translate(53.8,200.6) rotate(-90) scale(0.950,1)">3</text>
<text transform="translate(53.8,140.3) rotate(-90) scale(0.950,1)">4</text>
<text transform="translate(53.8,80.0) rotate(-90) scale(0.950,1)">5</text>
<text transform="translate(53.8,19.7) rotate(-90) scale(0.950,1)">6</text>
</g>
<text transform="translate(13.8,198.7) rotate(-90) scale(0.969,1)" text-anchor="middle" font-size="16.2" fill="#000">Party support (%)</text>
<rect x="203.5" y="429.5" width="429" height="56" fill="#fff" stroke="#000" stroke-width="1" shape-rendering="crispEdges"/>
<g font-size="16.2" fill="#000">
<line x1="207.4" y1="448.5" x2="237.0" y2="448.5" stroke="#F2E41A" stroke-width="2"/>
<rect x="220.0" y="446.0" width="5" height="5" fill="#F2E41A"/>
<text x="250.6" y="455.5" textLength="30.7" lengthAdjust="spacingAndGlyphs">ACT</text>
<line x1="207.4" y1="467.3" x2="237.0" y2="467.3" stroke="#0BA8E0" stroke-width="2"/>
<rect x="220.0" y="464.8" width="5" height="5" fill="#0BA8E0"/>
<text x="250.6" y="475.2" textLength="89.9" lengthAdjust="spacingAndGlyphs">Conservative</text>
<line x1="348.4" y1="448.5" x2="378.0" y2="448.5" stroke="#66194A" stroke-width="2"/>
<rect x="361.0" y="446.0" width="5" height="5" fill="#66194A"/>
<text x="390.7" y="455.5" textLength="91.7" lengthAdjust="spacingAndGlyphs">Internet Mana</text>
<line x1="348.4" y1="467.3" x2="378.0" y2="467.3" stroke="#770A17" stroke-width="2"/>
<rect x="361.0" y="464.8" width="5" height="5" fill="#770A17"/>
<text x="390.7" y="475.2" textLength="38.5" lengthAdjust="spacingAndGlyphs">Mana</text>
<line x1="488.4" y1="448.5" x2="518.0" y2="448.5" stroke="#E04A48" stroke-width="2"/>
<rect x="501.0" y="446.0" width="5" height="5" fill="#E04A48"/>
<text x="531.8" y="455.5" textLength="37.8" lengthAdjust="spacingAndGlyphs">Maori</text>
<line x1="488.4" y1="467.3" x2="518.0" y2="467.3" stroke="#4B1260" stroke-width="2"/>
<rect x="501.0" y="464.8" width="5" height="5" fill="#4B1260"/>
<text x="531.8" y="475.2" textLength="91.6" lengthAdjust="spacingAndGlyphs">United Future</text>
</g>
</svg></body></html>
